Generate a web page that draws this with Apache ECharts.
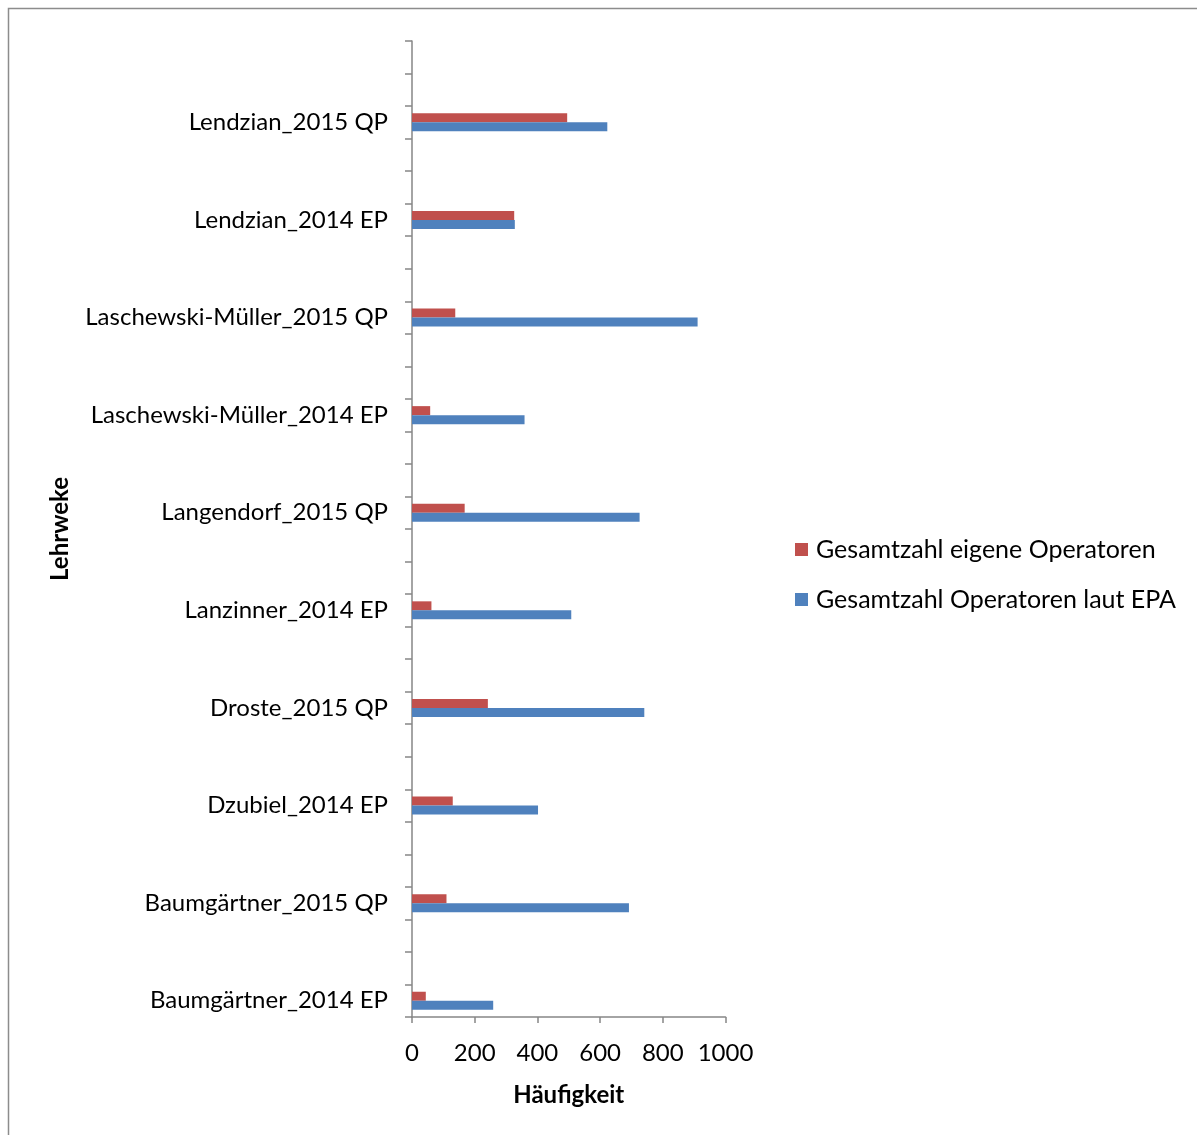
<!DOCTYPE html>
<html>
<head>
<meta charset="utf-8">
<script src="https://cdn.jsdelivr.net/npm/echarts@6/dist/echarts.min.js"></script>
<style>html,body{margin:0;padding:0;background:#fff}#c{width:1197px;height:1135px}</style>
</head>
<body>
<div id="c"></div>
<script>
// Categories listed bottom-to-top, as on the axis
const categories = [
  'Baumgärtner_2014 EP',
  'Baumgärtner_2015 QP',
  'Dzubiel_2014 EP',
  'Droste_2015 QP',
  'Lanzinner_2014 EP',
  'Langendorf_2015 QP',
  'Laschewski-Müller_2014 EP',
  'Laschewski-Müller_2015 QP',
  'Lendzian_2014 EP',
  'Lendzian_2015 QP'
];
const eigeneOperatoren = [44, 110, 130, 242, 62, 168, 58, 138, 326, 495];
const operatorenLautEPA = [259, 692, 402, 741, 508, 726, 359, 911, 328, 623];
const seriesNames = ['Gesamtzahl eigene Operatoren', 'Gesamtzahl Operatoren laut EPA'];
const xTicks = [0, 200, 400, 600, 800, 1000];

// The source sheet has two blank rows after each entry: 3 axis slots per entry
const slots = [], redSlots = [], blueSlots = [];
categories.forEach((c, i) => {
  slots.push(c); redSlots.push(eigeneOperatoren[i]); blueSlots.push(operatorenLautEPA[i]);
  for (let k = 0; k < 2; k++) { slots.push(''); redSlots.push(null); blueSlots.push(null); }
});

const font = 'Lato';
const fs = 24;
const axisGray = '#868686';
const chart = echarts.init(document.getElementById('c'));
chart.setOption({
  animation: false,
  textStyle: { fontFamily: font },
  graphic: [{
    type: 'rect', left: 6, top: 6,
    shape: { width: 1200, height: 1140 },
    style: { fill: 'none', stroke: '#8c8c8c', lineWidth: 1.5 },
    silent: true
  }],
  grid: { left: 412, top: 41, width: 313.5, height: 976, containLabel: false },
  legend: {
    orient: 'vertical', left: 795, top: 537, padding: 0,
    itemWidth: 13, itemHeight: 13, itemGap: 25,
    icon: 'rect',
    data: seriesNames,
    textStyle: { fontFamily: font, fontSize: 25, color: '#000', padding: [0, 0, 0, 3] }
  },
  xAxis: {
    type: 'value', min: xTicks[0], max: xTicks[xTicks.length - 1], interval: 200,
    name: 'Häufigkeit', nameLocation: 'middle', nameGap: 66,
    nameTextStyle: { fontFamily: font, fontWeight: 'bold', fontSize: fs, color: '#000' },
    axisLine: { show: true, lineStyle: { color: axisGray, width: 1.5 } },
    axisTick: { show: true, length: 6, lineStyle: { color: axisGray, width: 1.5 } },
    axisLabel: { fontFamily: font, fontSize: fs, color: '#000', margin: 24, formatter: v => String(v) },
    splitLine: { show: false }
  },
  yAxis: {
    type: 'category', data: slots, boundaryGap: true,
    name: 'Lehrweke', nameLocation: 'middle', nameGap: 340,
    nameTextStyle: { fontFamily: font, fontWeight: 'bold', fontSize: fs, color: '#000' },
    axisLine: { show: true, lineStyle: { color: axisGray, width: 1.5 } },
    axisTick: { show: true, interval: 0, length: 7, lineStyle: { color: axisGray, width: 1.5 } },
    axisLabel: { interval: 0, fontFamily: font, fontSize: fs, color: '#000', margin: 24, verticalAlign: 'middle' }
  },
  series: [
    {
      name: seriesNames[0], type: 'bar', data: redSlots, barWidth: 9, barGap: '0%',
      itemStyle: { color: '#c0504d' }
    },
    {
      name: seriesNames[1], type: 'bar', data: blueSlots, barWidth: 9, barGap: '0%',
      itemStyle: { color: '#4f81bd' }
    }
  ]
});
</script>
</body>
</html>
